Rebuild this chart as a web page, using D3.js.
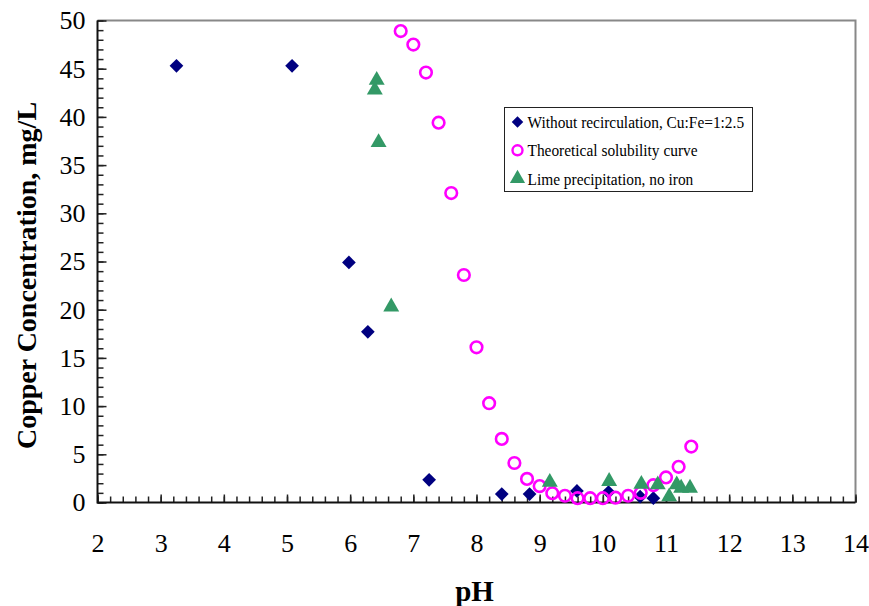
<!DOCTYPE html>
<html>
<head>
<meta charset="utf-8">
<script src="https://cdn.jsdelivr.net/npm/d3@7"></script>
<style>
  body { margin: 0; background: #fff; }
  svg text { font-family: "Times New Roman", "Liberation Serif", Times, serif; }
</style>
</head>
<body>
<div id="chart"></div>
<script>
// Without recirculation, Cu:Fe=1:2.5
var recircPH = [3.25, 5.08, 5.98, 6.28, 7.25, 8.40, 8.84, 9.59, 10.09, 10.59, 10.80]
var recircCu = [45.3, 45.3, 24.9, 17.7, 2.35, 0.87, 0.87, 1.2, 1.08, 0.6, 0.45]

// Theoretical solubility curve
var theoPH = [6.8, 7.0, 7.2, 7.4, 7.6, 7.8, 8.0, 8.2, 8.4, 8.6, 8.8, 9.0,
              9.2, 9.4, 9.6, 9.8, 10.0, 10.2, 10.4, 10.6, 10.8, 11.0, 11.2, 11.4]
var theoCu = [48.9, 47.5, 44.6, 39.4, 32.1, 23.6, 16.1, 10.3, 6.6, 4.1, 2.45, 1.7,
              0.97, 0.7, 0.45, 0.45, 0.45, 0.5, 0.7, 1.0, 1.8, 2.6, 3.7, 5.8]

// Lime precipitation, no iron
var limePH = [6.42, 6.39, 6.45, 6.65, 9.16, 10.10, 10.61, 10.87, 11.05, 11.17, 11.24, 11.38]
var limeCu = [43.8, 42.8, 37.35, 20.3, 2.1, 2.2, 1.9, 1.85, 0.6, 1.85, 1.5, 1.5]

var xTicks = [2, 3, 4, 5, 6, 7, 8, 9, 10, 11, 12, 13, 14]
var yTicks = [0, 5, 10, 15, 20, 25, 30, 35, 40, 45, 50]
var legendLabels = ['Without recirculation, Cu:Fe=1:2.5', 'Theoretical solubility curve', 'Lime precipitation, no iron']

var FONT = '"Times New Roman", "Liberation Serif", Times, serif'
var W = 869, H = 606
var margin = {left: 97.5, right: 13.5, top: 20.5, bottom: 103.5}
var width = W - margin.left - margin.right
var height = H - margin.top - margin.bottom

var svg = d3.select('#chart').append('svg')
  .attr('width', W).attr('height', H)
  .attr('font-family', FONT)

var g = svg.append('g').attr('transform', 'translate(' + margin.left + ',' + margin.top + ')')

var x = d3.scaleLinear().domain([2, 14]).range([0, width])
var y = d3.scaleLinear().domain([0, 50]).range([height, 0])

// frame: gray top/right
g.append('path')
  .attr('d', 'M0,0H' + width + 'V' + height)
  .attr('fill', 'none').attr('stroke', '#888').attr('stroke-width', 2)

// minor ticks
var xMinor = g.append('g').attr('transform', 'translate(0,' + height + ')')
  .call(d3.axisBottom(x).tickValues(d3.range(2, 14.001, 0.2)).tickSize(-6).tickFormat(''))
var xMajor = g.append('g').attr('transform', 'translate(0,' + height + ')')
  .call(d3.axisBottom(x).tickValues(xTicks).tickSize(-8).tickPadding(31).tickFormat(d3.format('d')))
var yMinor = g.append('g')
  .call(d3.axisLeft(y).tickValues(d3.range(0, 50.001, 1)).tickSize(-6).tickFormat(''))
var yMajor = g.append('g')
  .call(d3.axisLeft(y).tickValues(yTicks).tickSize(-9).tickPadding(12).tickFormat(d3.format('d')))

;[xMinor, xMajor, yMinor, yMajor].forEach(function(a){
  a.attr('font-family', FONT)
  a.selectAll('.domain').remove()
  a.selectAll('.tick line').attr('stroke', '#222').attr('stroke-width', 1.5)
})
xMajor.selectAll('text').attr('font-size', 26).attr('fill', '#000')
yMajor.selectAll('text').attr('font-size', 26).attr('fill', '#000')

// black axis lines left/bottom
g.append('path')
  .attr('d', 'M0,0V' + height + 'H' + width)
  .attr('fill', 'none').attr('stroke', '#111').attr('stroke-width', 2)

// markers
var diamond = d3.symbol().type(d3.symbolDiamond2).size(120)
var triangle = d3.symbol().type(d3.symbolTriangle).size(110)

g.append('g').selectAll('path.rec')
  .data(d3.zip(recircPH, recircCu))
  .join('path')
  .attr('transform', function(d){ return 'translate(' + x(d[0]) + ',' + y(d[1]) + ')' })
  .attr('d', diamond)
  .attr('fill', '#000080')

g.append('g').selectAll('circle')
  .data(d3.zip(theoPH, theoCu))
  .join('circle')
  .attr('cx', function(d){ return x(d[0]) })
  .attr('cy', function(d){ return y(d[1]) })
  .attr('r', 5.8)
  .attr('fill', 'none')
  .attr('stroke', '#ff00ff')
  .attr('stroke-width', 2.6)

g.append('g').selectAll('path.lime')
  .data(d3.zip(limePH, limeCu))
  .join('path')
  .attr('transform', function(d){ return 'translate(' + x(d[0]) + ',' + y(d[1]) + ')' })
  .attr('d', triangle)
  .attr('fill', '#339966')

// axis titles
svg.append('text')
  .attr('x', margin.left + width / 2 - 2).attr('y', 601)
  .attr('text-anchor', 'middle')
  .attr('font-size', 29).attr('font-weight', 'bold')
  .text('pH')

svg.append('text')
  .attr('transform', 'translate(36,' + (margin.top + height / 2 + 14) + ') rotate(-90)')
  .attr('text-anchor', 'middle')
  .attr('font-size', 28).attr('font-weight', 'bold')
  .text('Copper Concentration, mg/L')

// legend
var lg = svg.append('g').attr('transform', 'translate(504.5,107.5)')
lg.append('rect').attr('width', 248).attr('height', 84)
  .attr('fill', '#fff').attr('stroke', '#222').attr('stroke-width', 1)

var rows = lg.selectAll('g.row').data(legendLabels).join('g')
  .attr('transform', function(d, i){ return 'translate(13,' + (14.5 + i * 28.3) + ')' })

rows.each(function(d, i){
  var r = d3.select(this)
  if (i === 0) r.append('path').attr('d', d3.symbol().type(d3.symbolDiamond2).size(85)).attr('fill', '#000080')
  if (i === 1) r.append('circle').attr('r', 5).attr('fill', 'none').attr('stroke', '#ff00ff').attr('stroke-width', 2.4)
  if (i === 2) r.append('path').attr('d', d3.symbol().type(d3.symbolTriangle).size(100)).attr('fill', '#339966')
  // the original legend type is a bit condensed
  r.append('text').attr('transform', 'translate(10,0) scale(0.88,1)').attr('dy', '0.35em')
    .attr('font-size', 17.5).text(d)
})
</script>
</body>
</html>
